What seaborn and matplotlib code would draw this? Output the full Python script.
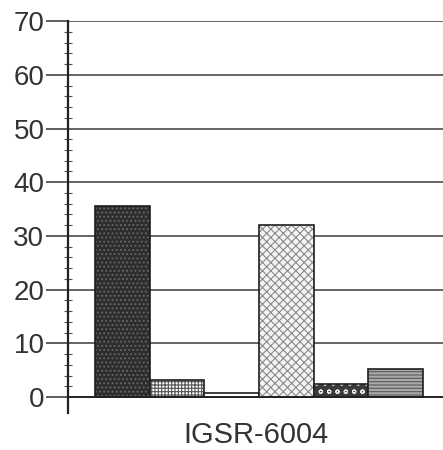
import matplotlib
matplotlib.use("Agg")
import matplotlib.pyplot as plt
import numpy as np
import pandas as pd
import seaborn as sns
from matplotlib.colors import to_rgba
from matplotlib.ticker import FixedLocator

# values
category = ["IGSR-6004"]
series = ["S1", "S2", "S3", "S4", "S5", "S6"]
values = [35.6, 3.1, 0.7, 32.0, 2.4, 5.3]
y_ticks = [0, 10, 20, 30, 40, 50, 60, 70]

# fill, hatch, hatch colour per bar (mimics the old print patterns)
fills = ["#2e2e2e", "#ffffff", "#ffffff", "#f4f4f4", "#3a3a3a", "#a9a9a9"]
hatches = ["....", "+++++", "", "xxxx", "oo", "-----"]
hatch_cols = ["#6a6a6a", "#555555", "#222222", "#8a8a8a", "#e8e8e8", "#5a5a5a"]

df = pd.DataFrame({"cat": category * len(series), "series": series, "value": values})

sns.set_style("white")
plt.rcParams["font.family"] = ["Liberation Sans", "DejaVu Sans"]
plt.rcParams["hatch.linewidth"] = 0.8

fig = plt.figure(figsize=(4.43, 4.5), dpi=100)
ax = fig.add_axes([0.1535, 0.082, 0.8465, 0.871])

sns.barplot(data=df, x="cat", y="value", hue="series", palette=fills,
            width=0.875, gap=0, legend=False, ax=ax, saturation=1)

for p, fc, h, hc in zip(ax.patches, fills, hatches, hatch_cols):
    p.set_facecolor(fc)
    p.set_edgecolor("#1e1e1e")
    p.set_linewidth(1.2)
    p.set_hatch(h)
    p._hatch_color = to_rgba(hc)

ax.set_ylim(-3, 70)
ax.set_xlim(-0.509, 0.491)
ax.set_yticks(y_ticks)
minor = [v for v in np.arange(0, 71, 2) if v % 10 != 0]
ax.yaxis.set_minor_locator(FixedLocator(minor))
ax.tick_params(axis="y", which="major", left=True, direction="out", length=16,
               width=1.1, color="#333333", labelsize=20, labelcolor="#333333", pad=1)
ax.tick_params(axis="y", which="minor", left=True, direction="inout", length=6,
               width=0.8, color="#555555")
ax.set_xticks([])

for y in y_ticks:
    ax.axhline(y, color="#3a3a3a", lw=1.1, zorder=0.5)
ax.axhline(0, color="#222222", lw=1.3, zorder=3)

for side in ["top", "right", "bottom"]:
    ax.spines[side].set_visible(False)
ax.spines["left"].set_color("#222222")
ax.spines["left"].set_linewidth(1.6)

ax.set_xlabel("IGSR-6004", fontsize=21, color="#333333", labelpad=6)
ax.set_ylabel("")

plt.savefig("out.png", dpi=100)
